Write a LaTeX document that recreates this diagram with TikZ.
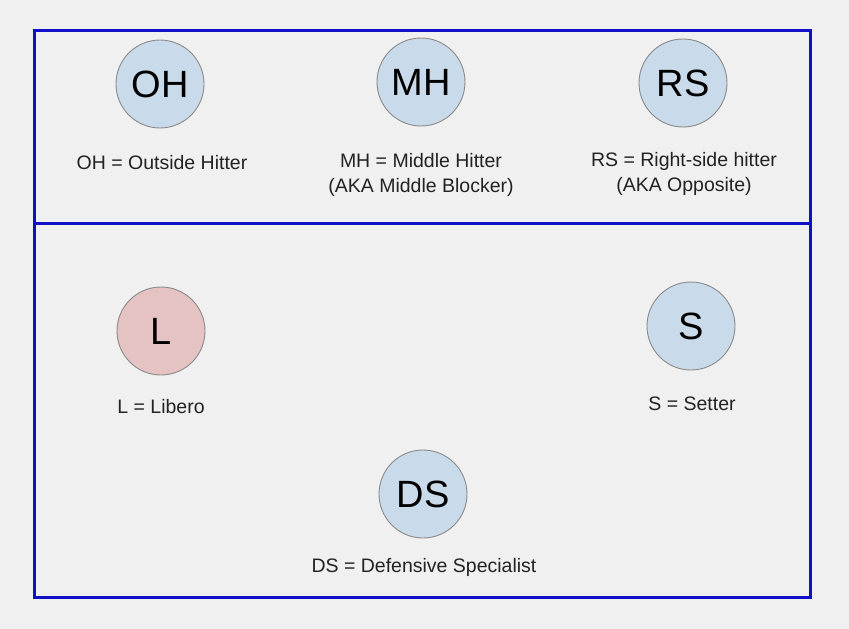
\documentclass[tikz,border=0pt]{standalone}
\usepackage{fontspec}
\setmainfont{Liberation Sans}
\definecolor{bg}{HTML}{F0F0F0}
\definecolor{court}{HTML}{1010C8}
\definecolor{pblue}{HTML}{C9DAEA}
\definecolor{ppink}{HTML}{E6C3C3}
\definecolor{ring}{HTML}{8A8A8A}
\definecolor{txt}{HTML}{222222}
\begin{document}
\begin{tikzpicture}[x=1pt,y=-1pt,
  player/.style={circle,draw=ring,line width=0.9pt,minimum size=88pt,inner sep=0pt,font=\fontsize{38}{42}\selectfont,text=black},
  lbl/.style={font=\fontsize{19.5}{25}\selectfont,text=txt,align=center}]
\fill[bg] (0,0) rectangle (849,629);
\useasboundingbox (0,0) rectangle (849,629);
\draw[court,line width=3pt] (34,30) rectangle (810,597);
\draw[court,line width=3pt] (34,223) -- (810,223);
\node[player,fill=pblue] (oh) at (160,84) {OH};
\node[player,fill=pblue] (mh) at (421,82) {MH};
\node[player,fill=pblue] (rs) at (683,83) {RS};
\node[player,fill=ppink] (l) at (161,331) {L};
\node[player,fill=pblue] (s) at (691,326) {S};
\node[player,fill=pblue] (ds) at (423,494) {DS};
\node[lbl] (ohl) at (162,163) {OH = Outside Hitter};
\node[lbl] (mhl) at (421,175) {MH = Middle Hitter\\(AKA Middle Blocker)};
\node[lbl] (rsl) at (684,174) {RS = Right-side hitter\\(AKA Opposite)};
\node[lbl] (ll) at (161,407) {L = Libero};
\node[lbl] (sl) at (692,404) {S = Setter};
\node[lbl] (dsl) at (424,567) {DS = Defensive Specialist};
\end{tikzpicture}
\end{document}
